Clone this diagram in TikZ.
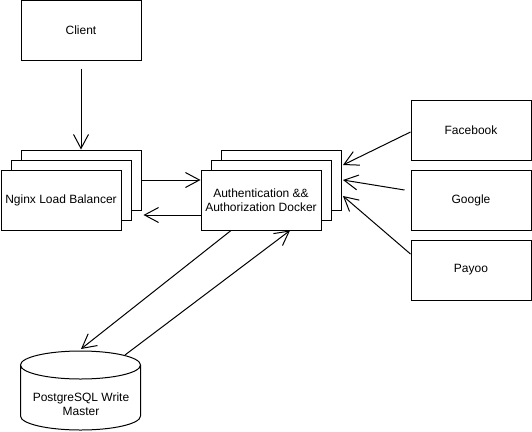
\documentclass[tikz,border=0pt]{standalone}
\usepackage{fontspec}
\setmainfont{Liberation Sans}
\usetikzlibrary{arrows.meta,calc}

\begin{document}
\begin{tikzpicture}[
 x=1pt,y=-1pt,
 line width=1pt,
 >={Straight Barb[length=14pt,width=15pt]},
 align=center,
 font=\fontsize{12}{14}\selectfont,
 box/.style={draw=black,rectangle,fill=white,minimum width=120pt,minimum height=60pt,inner sep=0pt}
]
\useasboundingbox (0,0) rectangle (532,431);
\node (client) [box] at (81,30) {Client};
% nginx stack
\node (nginx3) [box] at (81,180) {};
\node (nginx2) [box] at (71,190) {};
\node (nginx1) [box] at (61,200) {Nginx Load Balancer};
% auth stack
\node (auth3) [box] at (281,180) {};
\node (auth2) [box] at (271,190) {};
\node (auth1) [box] at (261,200) {Authentication \&\&\\Authorization Docker};
\node (facebook) [box] at (471,130) {Facebook};
\node (google) [box] at (471,200) {Google};
\node (payoo) [box] at (471,270) {Payoo};
\node (db) [minimum width=120pt,minimum height=80pt,inner sep=0pt] at (81,390.5) {};
\draw (db.west) ++(0,-25.5) -- ++(0,51) arc (180:360:60pt and 14pt) -- ++(0,-51) arc (0:180:60pt and 14pt)
 arc (180:360:60pt and 14pt);
\node at (81,404) {PostgreSQL Write\\Master};
\draw[->,shorten <=8pt] (client.south) -- (nginx3.north);
\draw[->] (nginx3.east) -- (nginx3.east -| auth1.west);
\coordinate (back) at ($(nginx3.east)+(2,35)$);
\draw[->] (back -| auth1.west) -- (back);
\coordinate (fbin) at (343,165);
\coordinate (ggin) at (343,180);
\coordinate (pyin) at (343,196);
\draw[->] ($(facebook.west)+(0,2)$) -- (fbin);
\draw[->] ($(google.west)+(-6,-10)$) -- (ggin);
\draw[->] ($(payoo.west)+(0,-16)$) -- (pyin);
\coordinate (dbtop) at (81,349);
\coordinate (dbout) at (125,355);
\draw[->] ($(auth1.south)+(-30,0)$) -- (dbtop);
\draw[->] (dbout) -- ($(auth1.south)+(29,0)$);
\end{tikzpicture}
\end{document}
